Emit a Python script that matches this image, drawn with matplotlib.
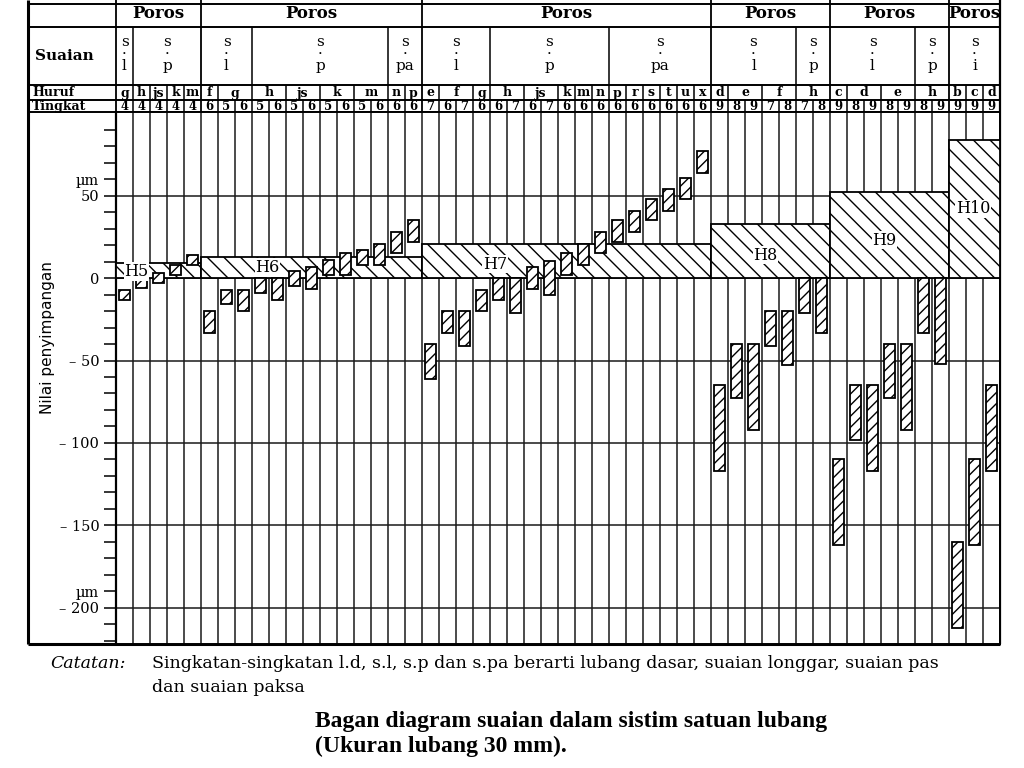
import matplotlib.pyplot as plt
import numpy as np

plt.rcParams['font.family'] = ['DejaVu Serif']
plt.rcParams['hatch.linewidth'] = 1.0

# hole tolerance zones (sistim satuan lubang, 30 mm)
zones = ['H5', 'H6', 'H7', 'H8', 'H9', 'H10']
zone_cols = [5, 13, 17, 7, 7, 3]
zone_upper = [9, 13, 21, 33, 52, 84]

# suaian groups
suaian = ['l', 'p', 'l', 'p', 'pa', 'l', 'p', 'pa', 'l', 'p', 'l', 'p', 'i']
suaian_cols = [1, 4, 3, 8, 2, 4, 7, 6, 5, 2, 5, 2, 3]

# shafts (poros): letter, grade, upper and lower deviation in um
huruf = ['g', 'h', 'js', 'k', 'm',
         'f', 'g', 'g', 'h', 'h', 'js', 'js', 'k', 'k', 'm', 'm', 'n', 'p',
         'e', 'f', 'f', 'g', 'h', 'h', 'js', 'js', 'k', 'm', 'n', 'p', 'r', 's', 't', 'u', 'x',
         'd', 'e', 'e', 'f', 'f', 'h', 'h',
         'c', 'd', 'd', 'e', 'e', 'h', 'h',
         'b', 'c', 'd']
tingkat = [4, 4, 4, 4, 4,
           6, 5, 6, 5, 6, 5, 6, 5, 6, 5, 6, 6, 6,
           7, 6, 7, 6, 6, 7, 6, 7, 6, 6, 6, 6, 6, 6, 6, 6, 6,
           9, 8, 9, 7, 8, 7, 8,
           9, 8, 9, 8, 9, 8, 9,
           9, 9, 9]
dev_upper = [-7, 0, 3, 8, 14,
             -20, -7, -7, 0, 0, 4.5, 6.5, 11, 15, 17, 21, 28, 35,
             -40, -20, -20, -7, 0, 0, 6.5, 10.5, 15, 21, 28, 35, 41, 48, 54, 61, 77,
             -65, -40, -40, -20, -20, 0, 0,
             -110, -65, -65, -40, -40, 0, 0,
             -160, -110, -65]
dev_lower = [-13, -6, -3, 2, 8,
             -33, -16, -20, -9, -13, -4.5, -6.5, 2, 2, 8, 8, 15, 22,
             -61, -33, -41, -20, -13, -21, -6.5, -10.5, 2, 8, 15, 22, 28, 35, 41, 48, 64,
             -117, -73, -92, -41, -53, -21, -33,
             -162, -98, -117, -73, -92, -33, -52,
             -212, -162, -117]

ytick_text = {60: '\u00b5m', 50: '50', 0: '0', -50: '\u2013 50', -100: '\u2013 100',
              -150: '\u2013 150', -190: '\u00b5m', -200: '\u2013 200'}

W, H = 1024, 768
X0, XA, X1 = 28, 116, 1000          # frame left, axis left, right edge (px)
ROWS = [4, 27, 85, 100, 112]         # header row lines (px)
YB = 644                             # bottom of chart (px)

fig = plt.figure(figsize=(W / 100, H / 100), dpi=100)

frame = fig.add_axes([0, 0, 1, 1])
frame.set_xlim(0, W)
frame.set_ylim(H, 0)
frame.axis('off')

ax = fig.add_axes([XA / W, 1 - YB / H, (X1 - XA) / W, (YB - ROWS[-1]) / H])
hx = fig.add_axes([XA / W, 1 - ROWS[-1] / H, (X1 - XA) / W, ROWS[-1] / H], sharex=ax)
hx.set_ylim(ROWS[-1], 0)
hx.axis('off')

ncol = len(huruf)
ax.set_xlim(0, ncol)
ax.set_ylim(-222, 100.8)

# grid
ax.vlines(np.arange(ncol + 1), -230, 110, color='#1a1a1a', lw=1.1, zorder=1)
for yv in [50, 0, -50, -100, -150, -200]:
    ax.axhline(yv, color='#1a1a1a', lw=1.1, zorder=1)

# tolerance zones of the hole
starts = np.concatenate([[0], np.cumsum(zone_cols)[:-1]])
ax.bar(starts, zone_upper, width=zone_cols, bottom=0, align='edge',
       facecolor='white', edgecolor='black', hatch='\\\\', lw=1.3, zorder=3)
label_pos = [(1.2, 4), (8.9, 6.5), (22.3, 8.5), (38.2, 14), (45.2, 23), (50.4, 42)]
for name, (lx, ly) in zip(zones, label_pos):
    ax.text(lx, ly, name, ha='center', va='center', fontsize=11.5, zorder=5,
            bbox=dict(facecolor='white', edgecolor='none', pad=0.5))

# shaft tolerance bars
xc = np.arange(ncol) + 0.5
up = np.array(dev_upper)
lo = np.array(dev_lower)
ax.bar(xc, up - lo, bottom=lo, width=0.64, facecolor='white',
       edgecolor='black', hatch='///', lw=1.3, zorder=4)

ticks = np.arange(-220, 91, 10)
ax.set_yticks(ticks)
ax.set_yticklabels([ytick_text.get(int(t), '') for t in ticks], fontsize=10.5)
ax.tick_params(axis='y', length=9, width=1.1, direction='out', pad=3)
ax.set_xticks([])
for s in ax.spines.values():
    s.set_linewidth(1.4)
ax.spines['left'].set_linewidth(1.6)

# header lines
sec_edges = set(np.cumsum([0] + zone_cols))
sua_edges = set(np.cumsum([0] + suaian_cols))
for k in range(ncol + 1):
    if k in sec_edges:
        top = 0
    elif k in sua_edges:
        top = ROWS[1]
    elif k == ncol or huruf[k] != huruf[k - 1]:
        top = ROWS[2]
    else:
        top = ROWS[3]
    hx.vlines(k, top, ROWS[-1], color='black', lw=1.3 if k in sec_edges else 1.1,
              clip_on=False)

frame.hlines(ROWS, X0, X1, color='black', lw=1.4)
frame.vlines([X0], 0, YB, color='black', lw=2.2)
frame.vlines([X1], 0, YB, color='black', lw=1.6)
frame.hlines([YB], X0, X1, color='black', lw=2.2)

# header text
for st, n in zip(starts, zone_cols):
    hx.text(st + n / 2, 14, 'Poros', ha='center', va='center', fontsize=12,
            fontweight='bold')
sua_starts = np.concatenate([[0], np.cumsum(suaian_cols)[:-1]])
for st, n, lab in zip(sua_starts, suaian_cols, suaian):
    hx.text(st + n / 2, 54, 's\n\u00b7\n' + lab, ha='center', va='center',
            fontsize=11, linespacing=0.78)

k = 0
while k < ncol:
    j = k
    while j + 1 < ncol and huruf[j + 1] == huruf[k] and (j + 1) not in sec_edges:
        j += 1
    hx.text((k + j + 1) / 2, 93, huruf[k], ha='center', va='center', fontsize=9,
            fontweight='bold')
    k = j + 1
for i, t in enumerate(tingkat):
    hx.text(i + 0.5, 106.5, str(t), ha='center', va='center', fontsize=8.5,
            fontweight='bold')

frame.text(35, 56, 'Suaian', ha='left', va='center', fontsize=11, fontweight='bold')
frame.text(32, 93, 'Huruf', ha='left', va='center', fontsize=9, fontweight='bold')
frame.text(32, 106.5, 'Tingkat', ha='left', va='center', fontsize=9, fontweight='bold')

frame.text(48, 338, 'Nilai penyimpangan', rotation=90, ha='center', va='center',
           fontsize=11, family='DejaVu Sans')

# notes and caption
frame.text(50, 663, 'Catatan:', ha='left', va='center', fontsize=12.5, style='italic')
frame.text(152, 663, 'Singkatan-singkatan l.d, s.l, s.p dan s.pa berarti lubang dasar, '
           'suaian longgar, suaian pas', ha='left', va='center', fontsize=12.5)
frame.text(152, 687, 'dan suaian paksa', ha='left', va='center', fontsize=12.5)
frame.text(315, 722, 'Bagan diagram suaian dalam sistim satuan lubang', ha='left',
           va='center', fontsize=17, fontweight='bold', family='Liberation Serif')
frame.text(315, 746, '(Ukuran lubang 30 mm).', ha='left', va='center', fontsize=17,
           fontweight='bold', family='Liberation Serif')

fig.savefig('out.png', dpi=100, facecolor='white')
